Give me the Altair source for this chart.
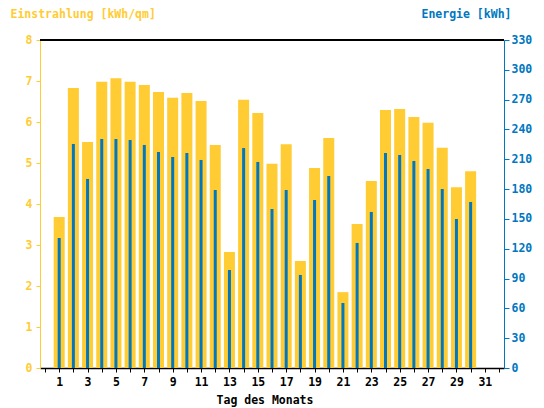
import altair as alt
import pandas as pd

days = list(range(1, 31))
einstrahlung = [3.68, 6.83, 5.51, 6.98, 7.07, 6.98, 6.90, 6.73, 6.59, 6.71,
                6.51, 5.44, 2.83, 6.54, 6.22, 4.98, 5.46, 2.61, 4.88, 5.61,
                1.85, 3.51, 4.56, 6.29, 6.32, 6.12, 5.98, 5.37, 4.41, 4.80]
energie = [130.8, 225.4, 190.2, 230.4, 230.4, 229.4, 224.4, 217.3, 212.3, 216.3,
           209.3, 179.1, 98.6, 221.3, 207.3, 160.0, 179.1, 93.6, 169.0, 193.2,
           65.4, 125.8, 157.0, 216.3, 214.3, 208.3, 200.2, 180.1, 149.9, 167.0]

YEL = "#FFCC33"
BLU = "#0077C0"
FONT = "DejaVu Sans Mono"
FS = 11.5

df = pd.DataFrame({"Tag": days, "Einstrahlung": einstrahlung, "Energie": energie})

xax = alt.Axis(
    values=list(range(0, 33)),
    labelExpr="(datum.value % 2 == 1 && datum.value <= 31) ? datum.value : ''",
    title="Tag des Monats", titleFont=FONT, titleFontSize=FS, titleFontWeight="bold",
    titleColor="black", titleX=224.5, titleY=35, titleBaseline="alphabetic",
    titleAnchor="start", titleAlign="center",
    labelFont=FONT, labelFontSize=FS, labelFontWeight="bold", labelColor="black",
    tickColor="black", tickSize=4, domainColor="black", domainWidth=1.5,
    labelPadding=4, grid=False, labelFlush=False, labelOverlap=False,
)
x = alt.X("Tag:Q", scale=alt.Scale(domain=[0, 32], nice=False, zero=False), axis=xax)

bars1 = alt.Chart(df).mark_bar(size=11, color=YEL).encode(
    x=x,
    y=alt.Y("Einstrahlung:Q", scale=alt.Scale(domain=[0, 8], nice=False),
            axis=alt.Axis(orient="left", values=list(range(0, 9)), grid=False,
                          title="Einstrahlung [kWh/qm]", titleAngle=0,
                          titleX=-30, titleY=-23, titleAlign="left",
                          titleBaseline="alphabetic", titleColor=YEL,
                          titleFont=FONT, titleFontSize=FS, titleFontWeight="bold",
                          labelFont=FONT, labelFontSize=FS, labelFontWeight="bold",
                          labelColor=YEL, tickColor=YEL, domainColor=YEL,
                          tickSize=4, labelPadding=4)),
)
bars2 = alt.Chart(df).mark_bar(size=3, color=BLU).encode(
    x=x,
    y=alt.Y("Energie:Q", scale=alt.Scale(domain=[0, 330], nice=False),
            axis=alt.Axis(orient="right", values=list(range(0, 331, 30)), grid=False,
                          title="Energie [kWh]", titleAngle=0,
                          titleX=7, titleY=-23, titleAlign="right",
                          titleBaseline="alphabetic", titleColor=BLU,
                          titleFont=FONT, titleFontSize=FS, titleFontWeight="bold",
                          labelFont=FONT, labelFontSize=FS, labelFontWeight="bold",
                          labelColor=BLU, tickColor=BLU, domainColor=BLU,
                          tickSize=5, labelPadding=2)),
)
top_line = alt.Chart(df).mark_rule(color="black", strokeWidth=1.5).encode(
    y=alt.value(0), x=alt.value(0), x2=alt.value(464)
)

chart = alt.layer(bars1, bars2, top_line).resolve_scale(y="independent").properties(
    width=464, height=328,
    autosize=alt.AutoSizeParams(type="none"),
    padding={"left": 32, "top": 32, "right": 32, "bottom": 40},
).configure_view(fill="#DCDCDC", stroke=None).configure(background="white")

chart.save("out.html", embed_options={"renderer": "svg", "actions": False})
